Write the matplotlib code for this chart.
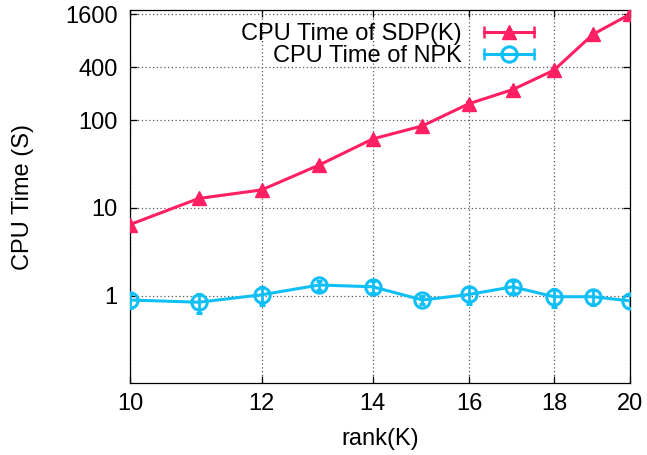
import matplotlib
matplotlib.use("Agg")
import matplotlib.pyplot as plt
from matplotlib.lines import Line2D
from matplotlib.legend_handler import HandlerLine2D, HandlerTuple
from matplotlib.ticker import FixedLocator, FixedFormatter, NullLocator

plt.rcParams['font.family'] = ['Liberation Sans', 'DejaVu Sans']

rank = [10, 11, 12, 13, 14, 15, 16, 17, 18, 19, 20]
sdp_time = [6.45, 12.8, 16.0, 30.8, 61.0, 86.0, 154.0, 223.0, 371.0, 951.0, 1610.0]
sdp_err = [0.2, 0.4, 0.5, 1.0, 2.0, 3.0, 5.0, 7.0, 12.0, 30.0, 50.0]
npk_time = [0.89, 0.84, 1.02, 1.32, 1.26, 0.89, 1.03, 1.26, 0.97, 0.97, 0.87]
npk_err = [0.16, 0.21, 0.23, 0.16, 0.2, 0.09, 0.22, 0.2, 0.22, 0.19, 0.15]

xticks = [10, 12, 14, 16, 18, 20]
yticks = [1, 10, 100, 400, 1600]
ytick_labels = ['1', '10', '100', '400', '1600']

sdp_color = '#ff2063'
npk_color = '#10bff5'
FS = 17.0

fig = plt.figure(figsize=(6.47, 4.55), dpi=100)
ax = fig.add_axes([130/647, (455-383.3)/455, 500/647, 373.3/455])

ax.set_xscale('log')
ax.set_yscale('log')

ax.errorbar(rank, sdp_time, yerr=sdp_err, color=sdp_color, lw=2.2, marker='^',
            ms=10, mec=sdp_color, mfc=sdp_color, capsize=2.5, elinewidth=1.5,
            capthick=1.5, zorder=3)
ax.errorbar(rank, npk_time, yerr=npk_err, color=npk_color, lw=2.2, marker='o',
            ms=11, mec=npk_color, mfc='none', mew=2.2, capsize=2.5, elinewidth=2,
            capthick=2, zorder=3)

ax.set_xlim(10, 20)
ax.set_ylim(0.1, 1800)

ax.xaxis.set_major_locator(FixedLocator(xticks))
ax.xaxis.set_major_formatter(FixedFormatter([str(v) for v in xticks]))
ax.xaxis.set_minor_locator(NullLocator())
ax.yaxis.set_major_locator(FixedLocator(yticks))
ax.yaxis.set_major_formatter(FixedFormatter(ytick_labels))
ax.yaxis.set_minor_locator(NullLocator())

ax.tick_params(axis='both', which='major', direction='in', length=5, width=0.9,
               top=True, right=True, labelsize=FS, colors='black')
ax.tick_params(axis='x', pad=7)
ax.tick_params(axis='y', pad=9)

ax.grid(True, which='major', linestyle=(0, (1, 2)), color='0.35', lw=0.9)
for s in ax.spines.values():
    s.set_linewidth(0.9)

ax.set_xlabel('rank(K)', fontsize=FS, labelpad=9)
ax.set_ylabel('CPU Time (S)', fontsize=FS, labelpad=22)

# gnuplot-style legend samples
sdp_caps = Line2D([], [], color=sdp_color, lw=2.2, marker='|', ms=9, mew=1.8)
sdp_mark = Line2D([], [], color=sdp_color, ls='none', marker='^', ms=10)
npk_caps = Line2D([], [], color=npk_color, lw=2.2, marker='|', ms=9, mew=1.8)
npk_mark = Line2D([], [], color=npk_color, ls='none', marker='o', ms=11, mfc='none', mew=2.2)
h1 = (sdp_caps, sdp_mark)
h2 = (npk_caps, npk_mark)
hmap = {sdp_caps: HandlerLine2D(numpoints=2), npk_caps: HandlerLine2D(numpoints=2),
        sdp_mark: HandlerLine2D(numpoints=1), npk_mark: HandlerLine2D(numpoints=1),
        h1: HandlerTuple(ndivide=1, pad=0), h2: HandlerTuple(ndivide=1, pad=0)}
leg = ax.legend([h1, h2], ['CPU Time of SDP(K)', 'CPU Time of NPK'], handler_map=hmap,
                loc='upper right', bbox_to_anchor=(0.822, 0.965), frameon=False,
                markerfirst=False, fontsize=FS, handlelength=2.7, handletextpad=0.65,
                labelspacing=0.0, borderpad=0, borderaxespad=0)

fig.savefig('out.png', dpi=100)
